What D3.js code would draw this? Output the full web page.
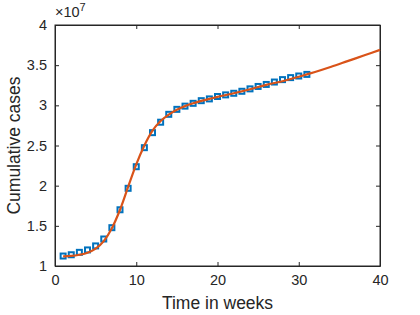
<!DOCTYPE html>
<html>
<head>
<meta charset="utf-8">
<script src="https://cdn.jsdelivr.net/npm/d3@7"></script>
<style>
  body { margin: 0; background: #fff; }
  svg { display: block; font-family: "Liberation Sans", Arial, sans-serif; }
</style>
</head>
<body>
<div id="chart"></div>
<script>
// observed weekly cumulative cases (x 1e7)
var weeks = d3.range(1, 32);
var cases = [1.124, 1.14, 1.17, 1.20, 1.25, 1.336, 1.477, 1.70, 1.967, 2.236,
             2.473, 2.66, 2.79, 2.888, 2.95, 2.99, 3.025, 3.058, 3.08, 3.11,
             3.13, 3.15, 3.175, 3.205, 3.235, 3.26, 3.29, 3.32, 3.345, 3.365, 3.385];

// fitted model curve (x 1e7)
var fitWeeks = [1, 2, 3, 4, 5, 6, 7, 8, 9, 10, 11, 12, 13, 14, 15, 16, 17, 18, 19, 20,
                22, 24, 26, 28, 30, 31, 32, 34, 36, 38, 40];
var fitCases = [1.12, 1.125, 1.14, 1.165, 1.215, 1.31, 1.47, 1.70, 1.985, 2.265,
                2.50, 2.685, 2.805, 2.885, 2.945, 2.99, 3.025, 3.055, 3.08, 3.105,
                3.15, 3.20, 3.255, 3.30, 3.355, 3.385, 3.415, 3.48, 3.55, 3.62, 3.69];

var xTicks = [0, 10, 20, 30, 40];
var yTicks = [1, 1.5, 2, 2.5, 3, 3.5, 4];

var width = 420, height = 315;
var margin = {left: 55, right: 40, top: 25, bottom: 49};

var svg = d3.select("#chart").append("svg")
    .attr("width", width).attr("height", height);

var x = d3.scaleLinear().domain([0, 40]).range([margin.left, width - margin.right]);
var y = d3.scaleLinear().domain([1, 4]).range([height - margin.bottom, margin.top]);

var axisColor = "#262626";

//////// AXES ////////
svg.append("g")
    .attr("transform", "translate(0," + (height - margin.bottom) + ")")
    .call(d3.axisBottom(x).tickValues(xTicks).tickSizeInner(-4).tickSizeOuter(0).tickPadding(9));

svg.append("g")
    .attr("transform", "translate(" + margin.left + ",0)")
    .call(d3.axisLeft(y).tickValues(yTicks).tickFormat(d3.format("~g")).tickSizeInner(-4).tickSizeOuter(0).tickPadding(8));

// top and right ticks (box on)
svg.append("g")
    .attr("transform", "translate(0," + margin.top + ")")
    .call(d3.axisTop(x).tickValues(xTicks).tickSizeInner(-4).tickSizeOuter(0).tickFormat(""));
svg.append("g")
    .attr("transform", "translate(" + (width - margin.right) + ",0)")
    .call(d3.axisRight(y).tickValues(yTicks).tickSizeInner(-4).tickSizeOuter(0).tickFormat(""));

svg.selectAll(".domain").attr("stroke", axisColor);
svg.selectAll(".tick line").attr("stroke", axisColor);
svg.selectAll(".tick text").attr("fill", axisColor).style("font-size", "14.5px");

svg.append("rect")
    .attr("x", x(0)).attr("y", y(4))
    .attr("width", x(40) - x(0)).attr("height", y(1) - y(4))
    .attr("fill", "none").attr("stroke", axisColor).attr("stroke-width", 1);

//////// DATA ////////
svg.selectAll(".pt")
    .data(weeks).enter().append("rect")
    .attr("class", "pt")
    .attr("x", function(d) { return x(d) - 2.5; })
    .attr("y", function(d, i) { return y(cases[i]) - 2.5; })
    .attr("width", 5).attr("height", 5)
    .attr("fill", "none")
    .attr("stroke", "#0072BD")
    .attr("stroke-width", 2);

var line = d3.line()
    .x(function(d) { return x(d[0]); })
    .y(function(d) { return y(d[1]); })
    .curve(d3.curveMonotoneX);

svg.append("path")
    .datum(fitWeeks.map(function(w, i) { return [w, fitCases[i]]; }))
    .attr("d", line)
    .attr("fill", "none")
    .attr("stroke", "#D95319")
    .attr("stroke-width", 2.2);

//////// LABELS ////////
svg.append("text")
    .attr("x", (x(0) + x(40)) / 2).attr("y", 309)
    .attr("text-anchor", "middle")
    .attr("fill", axisColor)
    .style("font-size", "17.5px")
    .text("Time in weeks");

svg.append("text")
    .attr("transform", "translate(20," + ((y(1) + y(4)) / 2) + ") rotate(-90)")
    .attr("text-anchor", "middle")
    .attr("fill", axisColor)
    .style("font-size", "17.5px")
    .text("Cumulative cases");

var exp = svg.append("text")
    .attr("x", 55).attr("y", 17)
    .attr("fill", axisColor)
    .style("font-size", "14.5px");
exp.append("tspan").text("\u00d710");
exp.append("tspan").attr("dy", -6).style("font-size", "11px").text("7");
</script>
</body>
</html>
